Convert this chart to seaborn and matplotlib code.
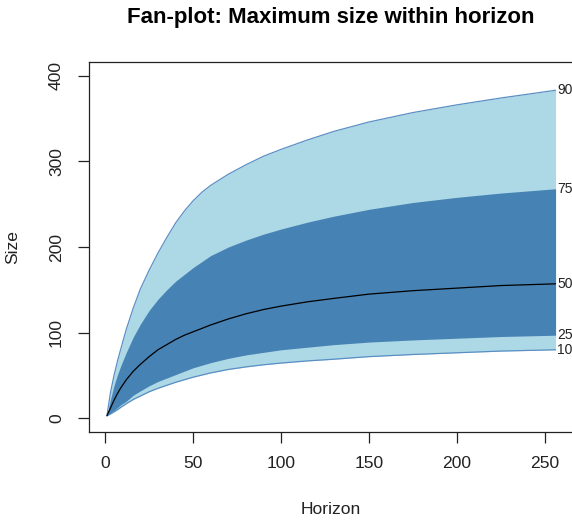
import matplotlib
matplotlib.use("Agg")
import matplotlib.pyplot as plt
import seaborn as sns
import pandas as pd

# ---- data ----
horizon = [1, 3, 5, 7, 9, 12, 16, 20, 25, 30, 35, 40, 45, 50, 55, 60, 70, 80, 90, 100,
           115, 130, 150, 175, 200, 225, 256]
q90 = [3, 30, 50, 67, 82, 104, 129, 151, 173, 193, 211, 228, 242, 254, 264, 272, 285,
       296, 306, 314, 325, 335, 346, 357, 366, 374, 383]
q75 = [3, 22, 38, 51, 62, 77, 95, 110, 126, 139, 150, 160, 168, 176, 183, 190, 200,
       208, 215, 221, 229, 236, 244, 252, 258, 263, 268]
q50 = [3, 12, 21, 29, 36, 45, 55, 63, 72, 80, 86, 92, 97, 101, 105, 109, 116,
       122, 127, 131, 136, 140, 145, 149, 152, 155, 157]
q25 = [3, 6, 9, 12.5, 16, 20, 27, 32, 38, 43, 47, 51, 55, 59, 62, 65, 70,
       74, 77, 80, 83, 86, 89, 91.5, 93.5, 95.5, 97]
q10 = [3, 5, 7.5, 10, 13, 17, 22, 26, 31, 35, 38.5, 42, 45, 48, 50.5, 53, 57,
       60, 62.5, 64.5, 67, 69, 72, 74.5, 76.5, 78.5, 80]
quant_labels = ["90", "75", "50", "25", "10"]
x_ticks = [0, 50, 100, 150, 200, 250]
y_ticks = [0, 100, 200, 300, 400]

df = pd.DataFrame({"Horizon": horizon, "q90": q90, "q75": q75, "q50": q50,
                   "q25": q25, "q10": q10})

sns.set_style("white")
plt.rcParams["font.family"] = ["Liberation Sans", "DejaVu Sans"]

fig = plt.figure(figsize=(5.72, 5.21), dpi=100)
ax = fig.add_axes([89 / 572, 1 - 432 / 521, (573.5 - 89) / 572, (432 - 62) / 521])

light = "#ADD8E6"
dark = "#4682B4"
edge = "#5B8FC4"

ax.fill_between(df["Horizon"], df["q10"], df["q90"], color=light, lw=0, zorder=1)
ax.fill_between(df["Horizon"], df["q25"], df["q75"], color=dark, lw=0, zorder=2)
sns.lineplot(data=df, x="Horizon", y="q90", ax=ax, color=edge, lw=0.9, zorder=3)
sns.lineplot(data=df, x="Horizon", y="q10", ax=ax, color=edge, lw=0.9, zorder=3)
sns.lineplot(data=df, x="Horizon", y="q50", ax=ax, color="black", lw=0.9, zorder=4)

last = len(horizon) - 1
for lab, col in zip(quant_labels, ["q90", "q75", "q50", "q25", "q10"]):
    ax.text(horizon[last] + 0.8, df[col].iloc[last], lab, ha="left", va="center",
            fontsize=10, color="#222222", zorder=5, clip_on=False)

ax.set_xlim(-9.2, 266.2)
ax.set_ylim(-16, 416)
ax.set_xticks(x_ticks)
ax.set_yticks(y_ticks)
ax.set_xticklabels([str(v) for v in x_ticks])
ax.set_yticklabels([str(v) for v in y_ticks], rotation=90, va="center")

for s in ax.spines.values():
    s.set_color("#222222")
    s.set_linewidth(0.9)
    s.set_visible(True)

ax.tick_params(axis="both", direction="out", length=8, width=0.9, color="#222222",
               labelsize=12.6, labelcolor="#222222", left=True, bottom=True)
ax.tick_params(axis="x", pad=9)
ax.tick_params(axis="y", pad=10)

ax.set_xlabel("Horizon", fontsize=12.6, color="#222222")
ax.set_ylabel("Size", fontsize=12.6, color="#222222")
ax.xaxis.set_label_coords(0.5, (432 - 509) / 370)
ax.xaxis.label.set_va("center")
ax.yaxis.set_label_coords((12.5 - 89) / 484.5, 0.5)
ax.yaxis.label.set_va("center")

fig.text(331 / 572, 1 - 18 / 521, "Fan-plot: Maximum size within horizon",
         ha="center", va="center", fontsize=16, fontweight="bold", color="black")

fig.savefig("out.png", dpi=100)
